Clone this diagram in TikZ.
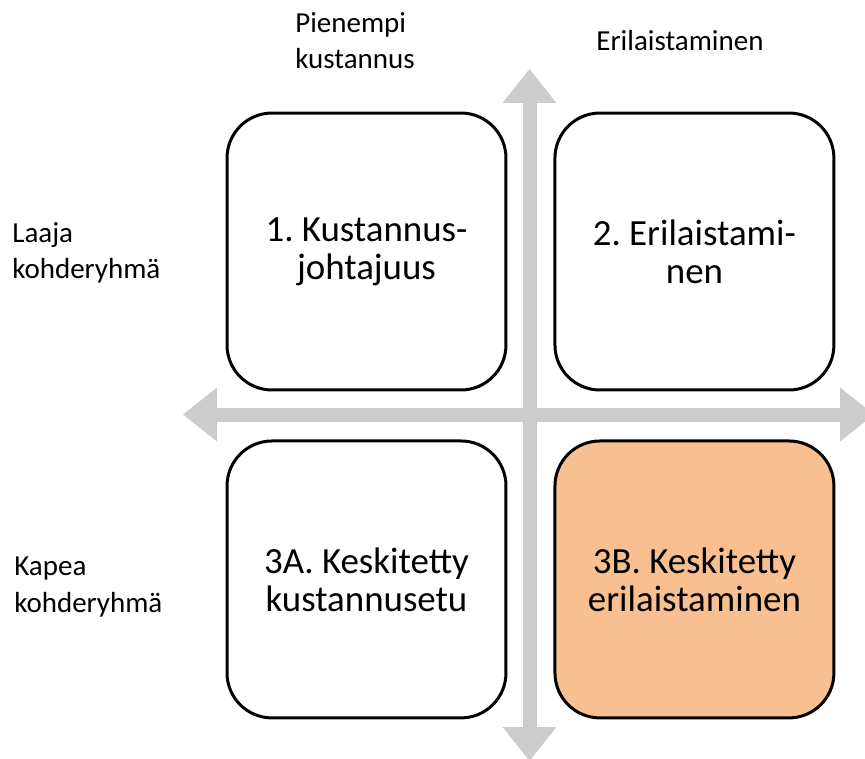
\documentclass[tikz,border=0pt]{standalone}
\usepackage{fontspec}
\setmainfont{Carlito}
\usetikzlibrary{positioning,arrows.meta}
\definecolor{axisgray}{HTML}{CCCCCC}
\definecolor{focusorange}{HTML}{F8C090}
\frenchspacing

\begin{document}
\begin{tikzpicture}[x=0.02cm, y=-0.02cm,
    quadrant/.style={draw, line width=0.06cm, rounded corners=0.9cm, minimum width=5.58cm, minimum height=5.54cm, align=center, inner sep=0pt, font=\fontsize{21}{21.6}\selectfont},
    axislabel/.style={align=left, anchor=north west, inner sep=0pt, font=\fontsize{16.5}{20.8}\selectfont},
    axis/.style={draw=axisgray, line width=0.28cm, >={Triangle[width=1.08cm, length=0.68cm, line width=0pt]}, <->}]
    \useasboundingbox (0,0) rectangle (865,758);

    % axes
    \coordinate (vtop) at (529.5,69);
    \coordinate (vbot) at (529.5,761);
    \coordinate (hleft) at (183,414.5);
    \coordinate (hright) at (874,414.5);
    \draw[axis] (vbot) -- (vtop);
    \draw[axis] (hleft) -- (hright);

    % quadrants
    \node[quadrant] (kust) at (366.5,251.5) {1. Kustannus-\\johtajuus};
    \node[quadrant, right=0.92cm of kust] (eril) {2. Erilaistami-\\nen};
    \node[quadrant, below=0.96cm of kust] (kkust) {3A. Keskitetty\\kustannusetu};
    \node[quadrant, fill=focusorange, right=0.92cm of kkust] (keril) {3B. Keskitetty\\erilaistaminen};

    % labels
    \node[axislabel] (pien) at (295,12) {Pienempi\\kustannus};
    \node[axislabel, anchor=base] (erilab) at (680,50) {Erilaistaminen};
    \node[axislabel] (laaja) at (12,222) {Laaja\\kohderyhmä};
    \node[axislabel] (kapea) at (14,557) {Kapea\\kohderyhmä};
\end{tikzpicture}
\end{document}
